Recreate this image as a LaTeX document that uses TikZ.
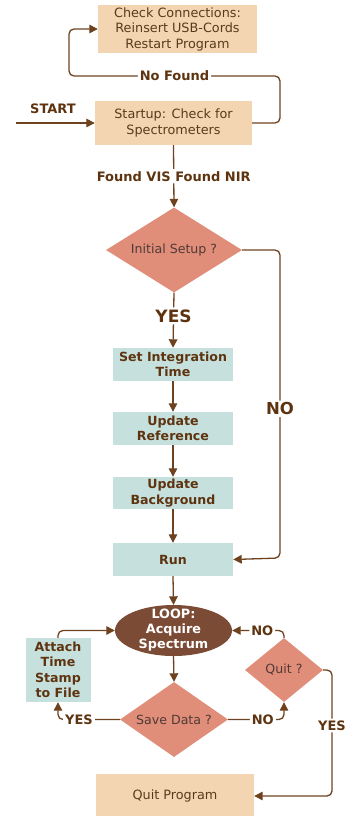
\documentclass[tikz,border=0pt]{standalone}
\usepackage{fontspec}
\setmainfont{DejaVu Sans}
\usetikzlibrary{arrows.meta,shapes.geometric}
\definecolor{peach}{HTML}{F3D5B1}
\definecolor{tealbox}{HTML}{C6E1DD}
\definecolor{salmon}{HTML}{E08D79}
\definecolor{loopbrown}{HTML}{7B4B35}
\definecolor{linebrown}{HTML}{6E421F}
\definecolor{txtbrown}{HTML}{5E3410}
\definecolor{boxtxt}{HTML}{5A3A1E}
\definecolor{dtxt}{HTML}{4F3B36}
\tikzset{
  peachbox/.style={fill=peach, draw=none, inner sep=0pt, text=boxtxt, align=center,
    font=\fontsize{12.8}{15.5}\selectfont},
  tbox/.style={fill=tealbox, draw=none, inner sep=0pt, text=txtbrown, align=center,
    font=\bfseries\fontsize{12.6}{15.5}\selectfont},
  dia/.style={diamond, fill=salmon, draw=none, inner sep=0pt, text=dtxt,
    font=\fontsize{12.6}{14}\selectfont},
  lab/.style={fill=white, inner sep=2pt, text=txtbrown, font=\bfseries\fontsize{13}{15}\selectfont},
  biglab/.style={fill=white, inner sep=2pt, text=txtbrown, font=\bfseries\fontsize{17}{19}\selectfont},
  conn/.style={draw=linebrown, line width=1.3pt, rounded corners=5pt},
  arr/.style={conn, -{Triangle[length=8.5pt,width=8.5pt]}}
}
\begin{document}
\begin{tikzpicture}[x=1pt,y=-1pt]
\useasboundingbox (0,0) rectangle (353,816);
\begin{scope}
\clip (0,0) rectangle (353,816);
% nodes
\node[peachbox, minimum width=159pt, minimum height=48pt] (check) at (177.5,29) {Check Connections:\\Reinsert USB-Cords\\Restart Program};
\node[peachbox, minimum width=157pt, minimum height=44pt] (startup) at (173.5,123) {Startup: Check for\\Spectrometers};
\node[dia, minimum width=136pt, minimum height=85pt, aspect=1.6] (init) at (174,250) {Initial Setup ?};
\node[tbox, minimum width=120pt, minimum height=33pt] (setint) at (173,364.5) {Set Integration\\Time};
\node[tbox, minimum width=120pt, minimum height=33pt] (updref) at (173,428.5) {Update\\Reference};
\node[tbox, minimum width=120pt, minimum height=32pt] (updbg) at (173,493) {Update\\Background};
\node[tbox, minimum width=120pt, minimum height=33pt] (run) at (173,559.5) {Run};
\node[ellipse, fill=loopbrown, draw=none, inner sep=0pt, minimum width=117pt, minimum height=51pt] (loop) at (173.5,630.5) {};
\node[text=white, align=center, inner sep=0pt, font=\bfseries\fontsize{12.8}{15}\selectfont] (looptxt) at (loop.center) {LOOP:\\Acquire\\Spectrum};
\node[dia, minimum width=108pt, minimum height=75pt, aspect=1.44] (save) at (174,719.5) {Save Data ?};
\node[tbox, minimum width=65pt, minimum height=64pt, font=\bfseries\fontsize{12.6}{15.5}\selectfont] (attach) at (58,670) {Attach\\Time\\Stamp\\to File};
\node[dia, minimum width=78pt, minimum height=64pt, aspect=1.22] (quit) at (284,670) {Quit ?};
\node[peachbox, minimum width=158pt, minimum height=44pt] (quitprog) at (175,796) {Quit Program};
% start
\coordinate (s0) at (16,123);
\node[lab, fill=none] (startlab) at (53,109) {START};
\draw[arr] (s0) -- (startup.west);
% no found loop
\draw[arr] (startup.east) -- (280,123) -- (280,76) -- node[lab]{No Found} (69,76) -- (69,29) -- (check.west);
% found
\draw[arr] (startup.south) -- node[lab]{Found VIS Found NIR} (init.north);
% yes
\draw[arr] (init.south) -- node[biglab, pos=0.42]{YES} (setint.north);
\draw[arr] (setint.south) -- (updref.north);
\draw[arr] (updref.south) -- (updbg.north);
\draw[arr] (updbg.south) -- (run.north);
\draw[arr] (run.south) -- (loop.north);
% NO from init
\draw[arr] (init.east) -- (280,250) -- node[biglab, font=\bfseries\fontsize{16.5}{18}\selectfont, pos=0.516]{NO} (280,558) -- (run.east);
% loop
\draw[arr] (loop.south) -- (save.north);
\draw[arr] (save.west) -- node[lab, pos=0.66]{YES} (58,719.5) -- (attach.south);
\draw[arr] (attach.north) -- (58,630.5) -- (loop.west);
\draw[arr] (save.east) -- node[lab, pos=0.62]{NO} (284,719.5) -- (quit.south);
\draw[arr] (quit.north) -- (284,630.5) -- node[lab, pos=0.42]{NO} (loop.east);
\draw[arr] (quit.east) -- (332,670) -- node[lab, pos=0.44]{YES} (332,796) -- (quitprog.east);
\end{scope}
\end{tikzpicture}
\end{document}
